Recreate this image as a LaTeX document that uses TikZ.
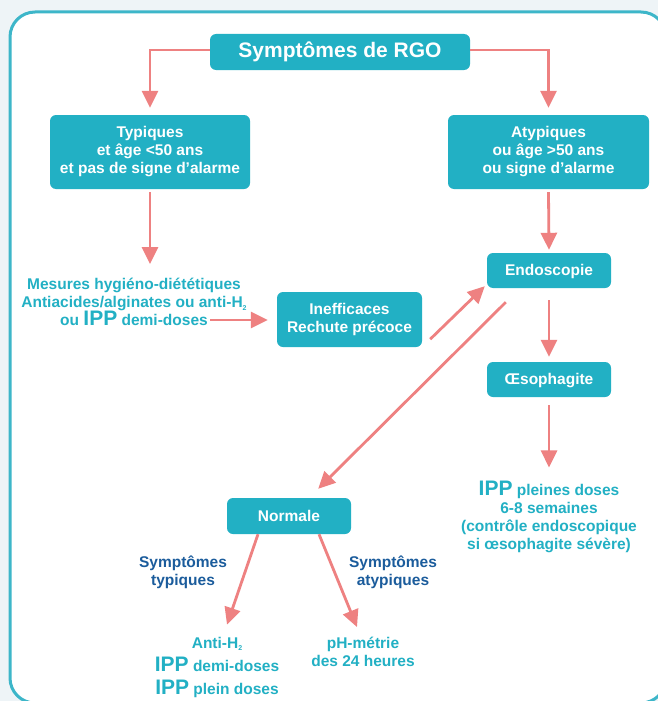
\documentclass[tikz,border=0pt]{standalone}
\usepackage{fontspec}
\setmainfont{Liberation Sans}
\usetikzlibrary{positioning, arrows.meta}
\definecolor{tealc}{HTML}{22B0C4}
\definecolor{framec}{HTML}{3DB6C9}
\definecolor{arrowc}{HTML}{EE8181}
\definecolor{navyc}{HTML}{1B5C9C}
\definecolor{bgc}{HTML}{EEF4F7}
\newcommand{\ipp}{{\fontsize{21}{22}\selectfont IPP}}
\newcommand{\hdeux}{H\raisebox{-2.5pt}{\fontsize{7}{8}\selectfont 2}}

\tikzset{
  box/.style={fill=tealc, text=white, rounded corners=6pt, align=center, inner sep=0pt},
  onebox/.style={box, minimum width=124pt, minimum height=35pt, text height=11pt, text depth=1pt},
  txt/.style={text=tealc, align=center, inner sep=0pt},
  lbl/.style={text=navyc, align=center, inner sep=0pt},
  arr/.style={draw=arrowc, line width=2.8pt, -{Triangle[length=17pt,width=16pt]}}
}

\begin{document}
\begin{tikzpicture}[x=1pt, y=-1pt, font={\bfseries\fontsize{15.5}{18}\selectfont}]
    % canvas: 1pt = 1px of the 658x701 reference, y grows downwards
    \useasboundingbox (0,0) rectangle (658,701);
    \clip (0,0) rectangle (658,701);
    \fill[bgc] (0,0) rectangle (658,701);
    \draw[framec, fill=white, line width=3pt, rounded corners=25pt] (10,12) rectangle (666,703);

    % boxes
    \node[box, minimum width=260pt, minimum height=36pt, text height=15pt, text depth=3pt,
      font={\bfseries\fontsize{21}{24}\selectfont}] (rgo) at (340,52) {Symptômes de RGO};
    \node[box, minimum width=200pt, minimum height=74pt] (typ) at (150,152)
      {Typiques\\et âge <50 ans\\et pas de signe d’alarme};
    \node[box, minimum width=201pt, minimum height=74pt] (atyp) at (548.5,152)
      {Atypiques\\ou âge >50 ans\\ou signe d’alarme};
    \node[box, minimum width=145pt, minimum height=55pt] (ineff) at (349.5,319.5)
      {Inefficaces\\Rechute précoce};
    \node[onebox] (endo) at (549,270.5) {Endoscopie};
    \node[onebox] (oeso) at (549,379.5) {Œsophagite};
    \node[onebox, minimum height=36pt] (norm) at (289,516) {Normale};

    % plain texts
    \node[txt] (mes) at (134,302)
      {Mesures hygiéno-diététiques\\Antiacides/alginates ou anti-\hdeux\\ou \ipp{} demi-doses};
    \node[txt] (pleines) at (549,516.5)
      {\ipp{} pleines doses\\6-8 semaines\\(contrôle endoscopique\\si œsophagite sévère)};
    \node[txt, font={\bfseries\fontsize{15.5}{23}\selectfont}] (anti) at (217,667)
      {Anti-\hdeux\\\ipp{} demi-doses\\\ipp{} plein doses};
    \node[txt] (ph) at (363,652) {pH-métrie\\des 24 heures};
    \node[lbl] (lbtyp) at (183,572) {Symptômes\\typiques};
    \node[lbl] (lbatyp) at (393,572) {Symptômes\\atypiques};
    \coordinate (mesend) at (210,320);

    % connectors
    \draw[arr] ([yshift=2pt]rgo.west) -| ([yshift=7pt]atyp.north -| typ.north);
    \draw[arr] ([yshift=2pt]rgo.east) -| ([yshift=7pt]atyp.north);
    \draw[arr] ([yshift=-3pt]typ.south) -- ([yshift=14pt]mes.north -| typ.south);
    \draw[arr] (mesend) -- ([xshift=-9pt]ineff.west |- mesend);
    \draw[arr] ([shift={(8pt,8pt)}]ineff.south east) -- ([shift={(-2pt,2pt)}]endo.south west);
    \draw[arr] ([yshift=-3pt]atyp.south) -- ([yshift=3pt]endo.north);
    \draw[arr] ([yshift=-12pt]endo.south) -- ([yshift=5pt]oeso.north);
    \draw[arr] ([yshift=-8pt]oeso.south) -- ([yshift=13pt]pleines.north);
    \draw[arr] ([shift={(19pt,-14pt)}]endo.south west) -- ([shift={(-33pt,9pt)}]norm.north east);
    \draw[arr] ([xshift=-31pt]norm.south) -- ([shift={(10pt,12pt)}]anti.north);
    \draw[arr] ([xshift=30pt]norm.south) -- ([shift={(-6pt,10pt)}]ph.north);
\end{tikzpicture}
\end{document}
